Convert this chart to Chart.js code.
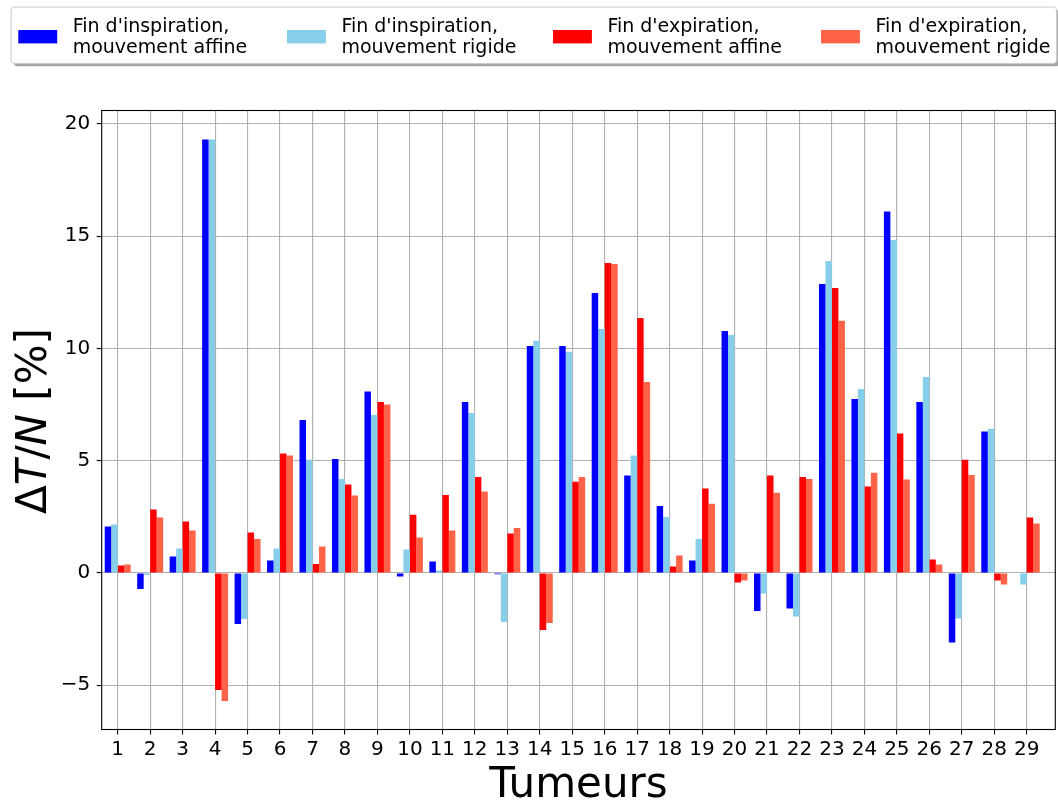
<!DOCTYPE html>
<html>
<head>
<meta charset="utf-8">
<script src="https://cdn.jsdelivr.net/npm/chart.js@4.4.1/dist/chart.umd.min.js"></script>
<style>
html, body { margin: 0; padding: 0; background: #fff; }
#wrap { position: relative; width: 1058px; height: 803px; }
</style>
</head>
<body>
<div id="wrap"><canvas id="barChart"></canvas></div>
<script>
// Données
const tumeurs = ['1', '2', '3', '4', '5', '6', '7', '8', '9', '10', '11', '12', '13', '14', '15',
                 '16', '17', '18', '19', '20', '21', '22', '23', '24', '25', '26', '27', '28', '29'];
const inspAffine = [2.07, -0.71, 0.73, 19.31, -2.27, 0.56, 6.82, 5.08, 8.08, -0.15, 0.51, 7.62, -0.05, 10.11, 10.11,
                    12.47, 4.34, 2.99, 0.56, 10.78, -1.69, -1.58, 12.87, 7.75, 16.10, 7.62, -3.09, 6.30, 0.0];
const inspRigide = [2.16, -0.09, 1.09, 19.31, -2.05, 1.09, 5.05, 4.19, 7.04, 1.05, 0.11, 7.13, -2.18, 10.34, 9.85,
                    10.87, 5.23, 2.50, 1.52, 10.60, -0.91, -1.94, 13.90, 8.20, 14.83, 8.73, -2.03, 6.42, -0.51];
const expAffine = [0.33, 2.83, 2.29, -5.21, 1.80, 5.32, 0.40, 3.94, 7.62, 2.60, 3.48, 4.28, 1.76, -2.54, 4.07,
                   13.81, 11.36, 0.29, 3.76, -0.42, 4.34, 4.28, 12.69, 3.85, 6.21, 0.60, 5.05, -0.33, 2.47];
const expRigide = [0.38, 2.47, 1.89, -5.70, 1.52, 5.23, 1.18, 3.45, 7.50, 1.58, 1.89, 3.63, 2.01, -2.23, 4.28,
                   13.76, 8.51, 0.78, 3.09, -0.33, 3.58, 4.19, 11.23, 4.46, 4.16, 0.38, 4.37, -0.51, 2.20];
const series = ["Fin d'inspiration,\nmouvement affine", "Fin d'inspiration,\nmouvement rigide",
                "Fin d'expiration,\nmouvement affine", "Fin d'expiration,\nmouvement rigide"];

const FONT = "'DejaVu Sans', sans-serif";

function points(vals) {
    return vals.map((v, i) => ({ x: i + 1, y: v }));
}

function roundRect(ctx, x, y, w, h, r) {
    ctx.beginPath();
    ctx.moveTo(x + r, y);
    ctx.arcTo(x + w, y, x + w, y + h, r);
    ctx.arcTo(x + w, y + h, x, y + h, r);
    ctx.arcTo(x, y + h, x, y, r);
    ctx.arcTo(x, y, x + w, y, r);
    ctx.closePath();
}

// légende à la matplotlib (boîte avec ombre, libellés sur deux lignes)
const legende = {
    id: 'legende',
    afterDraw(chart) {
        const ctx = chart.ctx;
        ctx.save();
        const bx = 11, by = 7, bw = 1045.7, bh = 56.5;
        ctx.fillStyle = 'rgba(77,77,77,0.5)';
        roundRect(ctx, bx + 2.8, by + 2.8, bw, bh, 4);
        ctx.fill();
        ctx.fillStyle = '#fff';
        ctx.strokeStyle = '#cccccc';
        ctx.lineWidth = 1.1;
        roundRect(ctx, bx, by, bw, bh, 4);
        ctx.fill();
        ctx.stroke();
        const xs = [18.3, 287, 553, 821];
        ctx.font = '19px ' + FONT;
        ctx.textBaseline = 'alphabetic';
        ctx.textAlign = 'left';
        chart.data.datasets.forEach((ds, i) => {
            ctx.fillStyle = ds.backgroundColor;
            ctx.fillRect(xs[i], 30, 38.9, 13.4);
            ctx.fillStyle = '#000';
            ds.label.split('\n').forEach((line, k) => ctx.fillText(line, xs[i] + 54.4, 32.3 + k * 21));
        });
        ctx.restore();
    }
};

// cadre + titres des axes
const cadre = {
    id: 'cadre',
    afterDraw(chart) {
        const { ctx, chartArea: a } = chart;
        ctx.save();
        ctx.strokeStyle = '#000';
        ctx.lineWidth = 1.1;
        ctx.strokeRect(a.left, a.top, a.right - a.left, a.bottom - a.top);

        ctx.fillStyle = '#000';
        ctx.font = '42px ' + FONT;
        ctx.textAlign = 'center';
        ctx.textBaseline = 'alphabetic';
        ctx.fillText('Tumeurs', (a.left + a.right) / 2, 796.7);

        // ΔT/N [%] avec T et N en italique
        const parts = [['Δ', ''], ['T', 'italic '], ['/', ''], ['N', 'italic '], [' [%]', '']];
        let total = 0;
        parts.forEach(p => { ctx.font = p[1] + '42px ' + FONT; total += ctx.measureText(p[0]).width; });
        ctx.translate(46, 421);
        ctx.rotate(-Math.PI / 2);
        ctx.textAlign = 'left';
        let x = -total / 2;
        parts.forEach(p => {
            ctx.font = p[1] + '42px ' + FONT;
            ctx.fillText(p[0], x, 0);
            x += ctx.measureText(p[0]).width;
        });
        ctx.restore();
    }
};

const couleurs = ['#0000ff', '#87ceeb', '#ff0000', '#ff6347'];
const valeurs = [inspAffine, inspRigide, expAffine, expRigide];

const barCtx = document.getElementById('barChart').getContext('2d');
const barChart = new Chart(barCtx, {
    type: 'bar',
    data: {
        datasets: valeurs.map((vals, i) => ({
            label: series[i],
            data: points(vals),
            backgroundColor: couleurs[i],
            borderWidth: 0,
            barPercentage: 1.0,
            categoryPercentage: 0.8
        }))
    },
    options: {
        responsive: true,
        maintainAspectRatio: false,
        animation: false,
        devicePixelRatio: 1,
        layout: { padding: { top: 110.5, left: 0, right: 2.7, bottom: 0 } },
        plugins: {
            legend: { display: false },
            tooltip: { enabled: false }
        },
        scales: {
            x: {
                type: 'linear',
                min: 0.507,
                max: 29.88,
                offset: false,
                z: 1,
                afterFit: s => { s.height = 73.5; },
                border: { display: false },
                grid: { offset: false, color: '#b0b0b0', lineWidth: 1.1, tickLength: 5, tickColor: '#000', tickWidth: 1.1 },
                ticks: {
                    stepSize: 1,
                    includeBounds: false,
                    autoSkip: false,
                    maxRotation: 0,
                    padding: 3,
                    color: '#000',
                    font: { family: FONT, size: 20 },
                    callback: v => tumeurs[v - 1]
                }
            },
            y: {
                min: -6.97,
                max: 20.6,
                z: 1,
                afterFit: s => { s.width = 101.7; },
                border: { display: false },
                grid: { color: '#b0b0b0', lineWidth: 1.1, tickLength: 5, tickColor: '#000', tickWidth: 1.1 },
                ticks: {
                    stepSize: 5,
                    includeBounds: false,
                    padding: 6.5,
                    color: '#000',
                    font: { family: FONT, size: 20 },
                    callback: v => (v < 0 ? '\u2212' + Math.abs(v) : String(v))
                }
            }
        }
    },
    plugins: [legende, cadre]
});
</script>
</body>
</html>
